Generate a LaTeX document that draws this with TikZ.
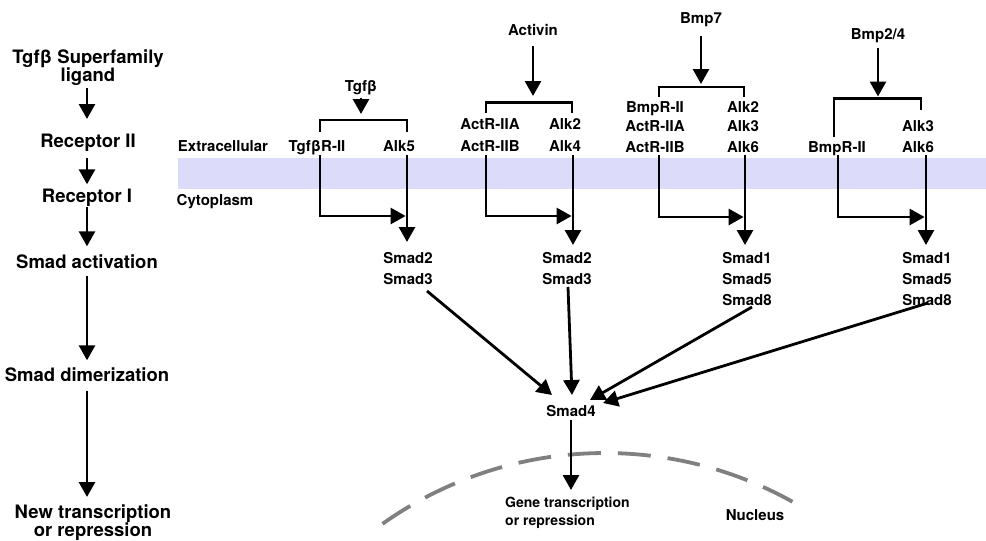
\documentclass[tikz,border=0pt]{standalone}
\usepackage{fontspec}
\setmainfont{TeX Gyre Heros}
\usetikzlibrary{arrows.meta}
\definecolor{bandcol}{RGB}{220,220,250}
\definecolor{nucgray}{RGB}{128,128,128}
\begin{document}
\begin{tikzpicture}[x=1pt,y=-1pt,
  lab/.style={font=\fontsize{15}{18}\selectfont\bfseries, inner sep=0pt, text height=0pt, text depth=0pt},
  smlab/.style={font=\fontsize{14}{17}\selectfont\bfseries, inner sep=0pt, text height=0pt, text depth=0pt},
  big/.style={font=\fontsize{18.5}{21}\selectfont\bfseries, inner sep=0pt, text height=0pt, text depth=0pt},
  ln/.style={line width=2.8pt},
  arr/.style={line width=2.8pt, -{Triangle[width=16pt,length=15pt]}},
  nuc/.style={line width=3.8pt, nucgray, dash pattern=on 33pt off 17pt}]
\useasboundingbox (0,0) rectangle (986,541);
% membrane band
\fill[bandcol] (178,158) rectangle (986,189);
\node[lab] (extra) at (223,151) {Extracellular};
\node[lab] (cyto) at (215,205) {Cytoplasm};

% left column
\node[big] (l1a) at (88,63) {Tgfβ Superfamily};
\node[big] (l1b) at (88,81) {ligand};
\node[big] (l2) at (88,147) {Receptor II};
\node[big] (l3) at (87,202) {Receptor I};
\node[big] (l4) at (87,268) {Smad activation};
\node[big] (l5) at (87,381) {Smad dimerization};
\node[big] (l6a) at (93,518) {New transcription};
\node[big] (l6b) at (93,536) {or repression};
\draw[arr, shorten <=7pt, shorten >=28pt] ([xshift=-1pt]l1b.center) -- ([xshift=-1pt]l2.center);
\draw[arr, shorten <=11pt, shorten >=17pt] ([xshift=-1pt]l2.center) -- (l3);
\draw[arr, shorten <=4pt, shorten >=21pt] (l3) -- (l4);
\draw[arr, shorten <=7pt, shorten >=20pt] (l4) -- (l5);
\draw[arr, shorten <=9pt, shorten >=21pt] (l5) -- (l5 |- l6a);

% group 1: Tgfb
\node[lab] (tg) at (361,91) {Tgfβ};
\node[lab] (ra2) at (317,151) {TgfβR-II};
\node[lab] (ra1) at (399,151) {Alk5};
\coordinate (bk1) at (361,120);
\draw[ln] (320,132) |- (bk1) -| (407,132);
\draw[arr, shorten <=6pt, shorten >=6pt] (tg) -- (bk1);

% group 2: Activin
\node[lab] (act) at (533,35) {Activin};
\node[lab] (rb2a) at (490,129) {ActR-IIA};
\node[lab] (rb2b) at (490,151) {ActR-IIB};
\node[lab] (rb1a) at (565,129) {Alk2};
\node[lab] (rb1b) at (565,151) {Alk4};
\coordinate (bk2) at (533,102.5);
\draw[ln] (486,113) |- (bk2) -| (572,113);
\draw[arr, shorten <=10pt, shorten >=6.5pt] (act) -- (bk2);

% group 3: Bmp7
\node[lab] (bmp7) at (701,23) {Bmp7};
\node[lab] (rc2a) at (655,112) {BmpR-II};
\node[lab] (rc2b) at (655,131) {ActR-IIA};
\node[lab] (rc2c) at (655,152) {ActR-IIB};
\node[lab] (rc1a) at (743,112) {Alk2};
\node[lab] (rc1b) at (743,131) {Alk3};
\node[lab] (rc1c) at (743,152) {Alk6};
\coordinate (bk3) at (701,87);
\draw[ln] (659,97) |- (bk3) -| (744,97);
\draw[arr, shorten <=12pt, shorten >=3pt] (bmp7) -- (bk3);

% group 4: Bmp2/4
\node[lab] (bmp24) at (878,39) {Bmp2/4};
\node[lab] (rd2) at (837,152) {BmpR-II};
\node[lab] (rd1a) at (918,131) {Alk3};
\node[lab] (rd1b) at (918,152) {Alk6};
\coordinate (bk4) at (878,98.5);
\draw[ln] (834,137) |- (bk4) -| (921,110);
\draw[arr, shorten <=8pt, shorten >=2pt] (bmp24) -- (bk4);

% Smads
\node[lab] (s1a) at (408,263) {Smad2};
\node[lab] (s1b) at (408,284) {Smad3};
\node[lab] (s2a) at (567,263) {Smad2};
\node[lab] (s2b) at (567,284) {Smad3};
\node[lab] (s3a) at (747,263) {Smad1};
\node[lab] (s3b) at (747,284) {Smad5};
\node[lab] (s3c) at (747,305) {Smad8};
\node[lab] (s4a) at (927,263) {Smad1};
\node[lab] (s4b) at (927,284) {Smad5};
\node[lab] (s4c) at (927,305) {Smad8};
\node[lab] (sm4) at (571,416) {Smad4};

% receptor II -> receptor I, receptor I -> Smads
\draw[arr] ([shift={(3,4)}]ra2.center) |- ([shift={(6.6,65)}]ra1.center);
\draw[arr] ([shift={(8,4)}]ra1.center) -- ([shift={(-1,-21)}]s1a.center);
\draw[arr] ([shift={(-4,4)}]rb2b.center) |- ([shift={(6.6,65)}]rb1b.center);
\draw[arr] ([shift={(8,4)}]rb1b.center) -- ([shift={(6,-18)}]s2a.center);
\draw[arr] ([shift={(4,3)}]rc2c.center) |- ([shift={(0.6,65)}]rc1c.center);
\draw[arr] ([shift={(2,3)}]rc1c.center) -- ([shift={(-2,-18)}]s3a.center);
\draw[arr] ([shift={(1,3)}]rd2.center) |- ([shift={(6.6,65)}]rd1b.center);
\draw[arr] ([shift={(8,3)}]rd1b.center) -- ([shift={(-1,-18)}]s4a.center);

% Smads -> Smad4
\draw[arr] ([shift={(19,7)}]s1b.center) -- ([shift={(-19,-21)}]sm4.center);
\draw[arr] ([shift={(1,3)}]s2b.center) -- ([shift={(1,-21)}]sm4.center);
\draw[arr] ([shift={(5,2)}]s3c.center) -- ([shift={(19,-16)}]sm4.center);
\draw[arr] ([shift={(1,-2)}]s4c.center) -- ([shift={(32,-13)}]sm4.center);

% nucleus
\draw[nuc] (605,838) ++(-125.3:385) arc[start angle=-125.3, end angle=-59.5, radius=385];
\node[smlab, anchor=west] (gt1) at (505,507) {Gene transcription};
\node[smlab, anchor=west] (gt2) at (505,525) {or repression};
\node[lab] (nucl) at (755,520) {Nucleus};
\draw[arr, shorten <=3pt, shorten >=17pt] (sm4) -- (sm4 |- gt1);
\end{tikzpicture}
\end{document}
